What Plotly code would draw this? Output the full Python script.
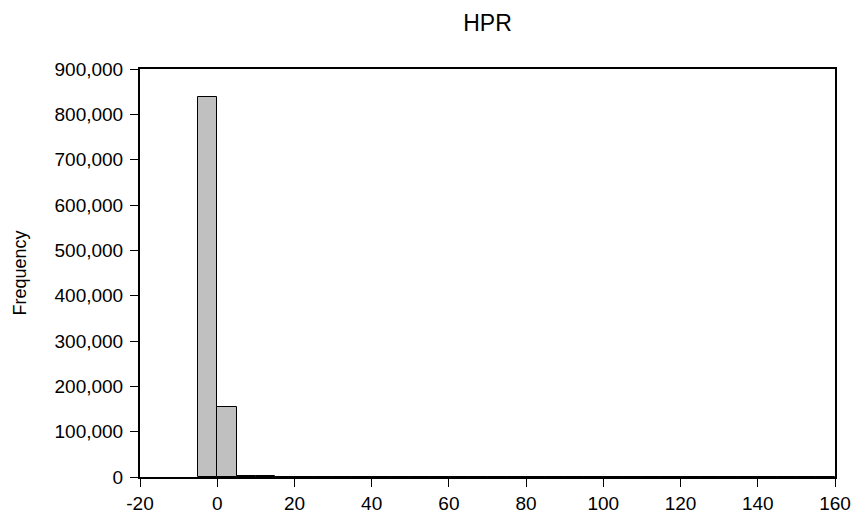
import plotly.graph_objects as go

# Histogram bins (left edges, width 5) and frequencies
bin_left = [-5, 0, 5, 10, 15, 20, 25, 30, 35, 40, 45, 50, 55, 60, 65, 70, 75, 80,
            85, 90, 95, 100, 105, 110, 115, 120, 125, 130, 135, 140, 145, 150, 155]
counts = [838400, 155500, 3000, 1500, 800, 500, 250, 150, 120, 100, 80, 70, 60, 50,
          40, 40, 30, 30, 25, 25, 20, 20, 15, 15, 12, 10, 10, 8, 8, 6, 5, 5, 4]
bin_width = 5
x_ticks = [-20, 0, 20, 40, 60, 80, 100, 120, 140, 160]
y_ticks = [0, 100000, 200000, 300000, 400000, 500000, 600000, 700000, 800000, 900000]

centers = [b + bin_width / 2 for b in bin_left]

fig = go.Figure(go.Bar(
    x=centers, y=counts, width=bin_width,
    marker=dict(color="#C0C0C0", line=dict(color="#000000", width=1)),
))

font = "Liberation Sans, Arial, sans-serif"
fig.update_layout(
    width=863, height=526,
    margin=dict(l=140, r=18, t=69, b=34),
    paper_bgcolor="white", plot_bgcolor="white",
    font=dict(family=font, size=19, color="black"),
    showlegend=False,
    title=dict(text="HPR", x=0.5, xref="paper", y=1 - 23 / 526, yref="container",
               yanchor="middle", xanchor="center", font=dict(size=23, family=font)),
    bargap=0,
)
fig.update_xaxes(
    range=[-20, 160], tickvals=x_ticks, ticktext=[str(v) for v in x_ticks],
    ticks="outside", ticklen=8, tickwidth=1, tickcolor="black",
    showline=True, linecolor="black", linewidth=2, mirror=True,
    showgrid=False, zeroline=False,
)
fig.update_yaxes(
    range=[0, 900000], tickvals=y_ticks, ticktext=[f"{v:,}" for v in y_ticks],
    ticks="outside", ticklen=8, tickwidth=1, tickcolor="black", ticklabelstandoff=3,
    showline=True, linecolor="black", linewidth=2, mirror=True,
    showgrid=False, zeroline=False,
    title=dict(text="Frequency", standoff=23, font=dict(size=18)),
)

fig.write_html("out.html", config={"displayModeBar": False})

with open("out.html", "r", encoding="utf-8") as f:
    html = f.read()
html = html.replace("<head>", "<head><style>html,body{margin:0;padding:0;overflow:hidden}</style>", 1)
with open("out.html", "w", encoding="utf-8") as f:
    f.write(html)
